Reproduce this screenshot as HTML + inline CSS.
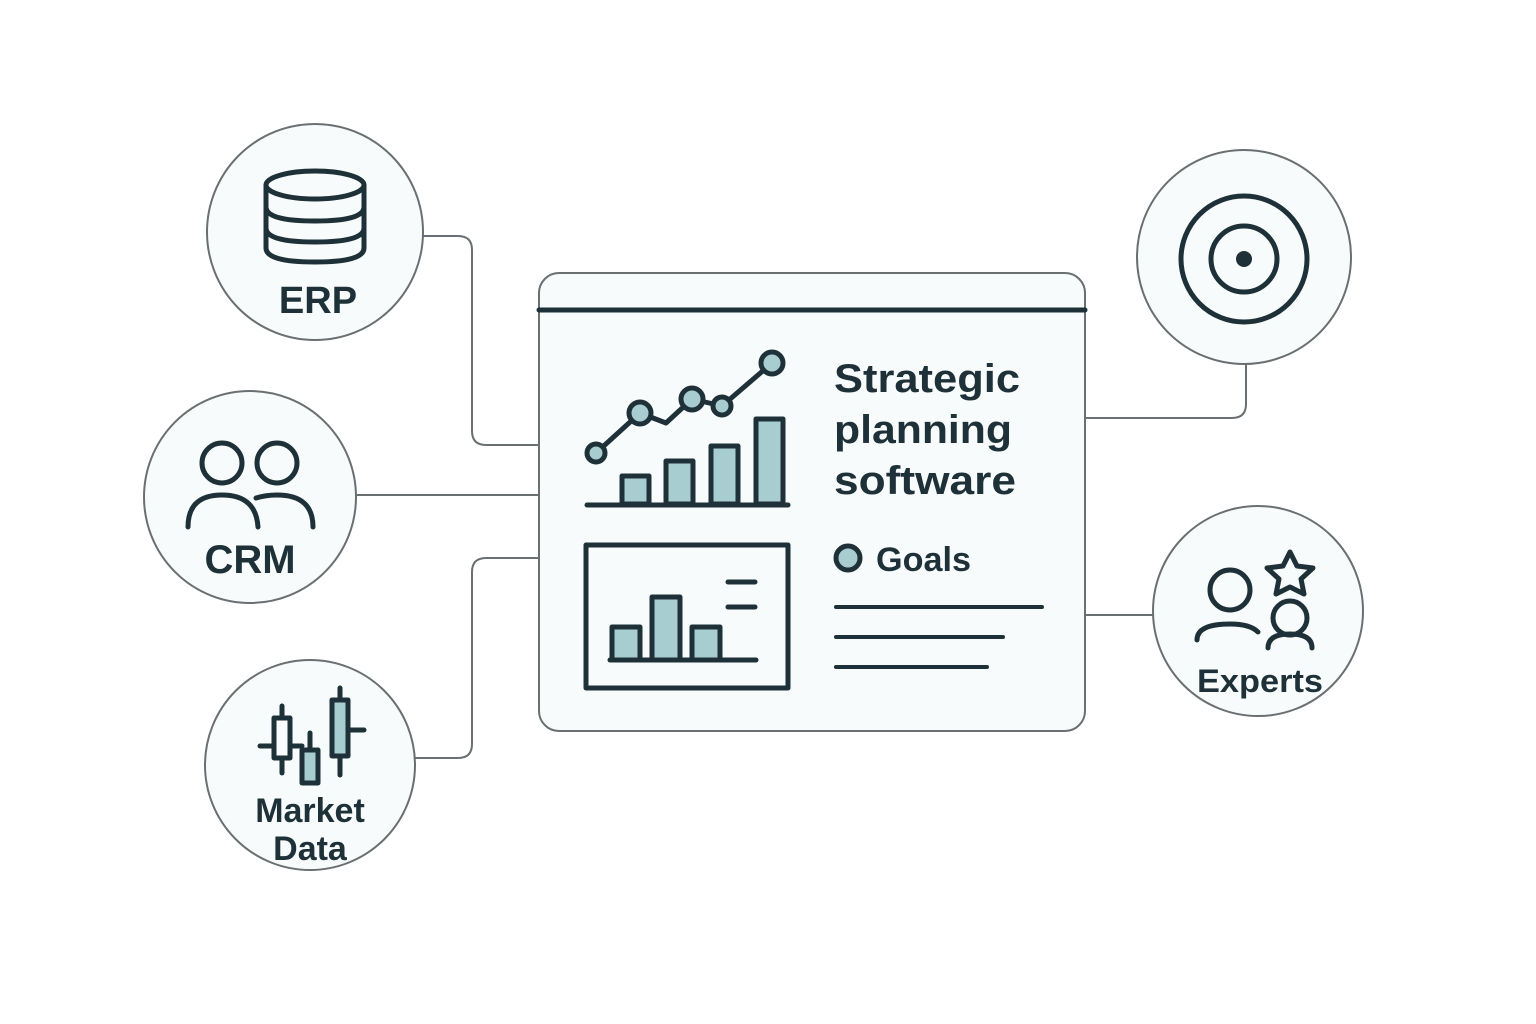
<!DOCTYPE html>
<html><head><meta charset="utf-8"><style>html,body{margin:0;padding:0;background:#fff}svg{display:block}</style></head>
<body>
<svg width="1536" height="1024" viewBox="0 0 1536 1024" xmlns="http://www.w3.org/2000/svg">
<g fill="none" stroke="#6a6f72" stroke-width="2">
<path d="M423 236 H458 Q472 236 472 250 V431 Q472 445 486 445 H539"/>
<path d="M356 495 H539"/>
<path d="M415 758 H458 Q472 758 472 744 V572 Q472 558 486 558 H539"/>
<path d="M1085 418 H1232 Q1246 418 1246 404 V364"/>
<path d="M1085 615 H1155"/>
</g>
<g fill="#f7fbfb" stroke="#6a6f72" stroke-width="2">
<circle cx="315" cy="232" r="108"/>
<circle cx="250" cy="497" r="106"/>
<circle cx="310" cy="765" r="105"/>
<circle cx="1244" cy="257" r="107"/>
<circle cx="1258" cy="611" r="105"/>
<rect x="539" y="273" width="546" height="458" rx="20"/>
</g>
<g stroke="#1f3138" stroke-width="5" fill="none" stroke-linecap="round" stroke-linejoin="round">
<line x1="539" y1="310" x2="1085" y2="310"/>
<ellipse cx="315" cy="185" rx="49" ry="14"/>
<path d="M266 185 V248 Q266 262 315 262 Q364 262 364 248 V185"/>
<path d="M266 207 Q266 221 315 221 Q364 221 364 207"/>
<path d="M266 228 Q266 242 315 242 Q364 242 364 228"/>
<circle cx="222" cy="463" r="20"/><circle cx="277" cy="463" r="20"/>
<path d="M188 527 Q188 495 222 495 Q256 495 258 527"/>
<path d="M256 498 Q266 495 277 495 Q313 495 313 527"/>
<circle cx="1244" cy="259" r="63"/><circle cx="1244" cy="259" r="33"/>
<circle cx="1230" cy="590" r="20"/>
<path d="M1197 640 Q1197 624 1230 624 Q1250 624 1258 632"/>
<circle cx="1290" cy="618" r="17"/>
<path d="M1268 648 Q1268 634 1290 634 Q1312 634 1312 648"/>
<path d="M1290 552 L1297 566 L1313 568 L1301 579 L1304 594 L1290 587 L1276 594 L1279 579 L1267 568 L1283 566 Z"/>
<line x1="260" y1="746" x2="274" y2="746"/>
<rect x="274" y="718" width="16" height="40" fill="#f7fbfb"/>
<line x1="282" y1="706" x2="282" y2="718"/><line x1="282" y1="758" x2="282" y2="773"/>
<line x1="290" y1="746" x2="302" y2="746"/>
<rect x="302" y="750" width="16" height="33" fill="#a8cdd0"/>
<line x1="310" y1="733" x2="310" y2="750"/>
<rect x="332" y="700" width="16" height="56" fill="#a8cdd0"/>
<line x1="340" y1="688" x2="340" y2="700"/><line x1="340" y1="756" x2="340" y2="775"/>
<line x1="348" y1="730" x2="364" y2="730"/>
<polyline points="596,453 640,413 666,423 692,399 722,406 772,363"/>
<rect x="622" y="476" width="27" height="28" fill="#a8cdd0"/>
<rect x="666" y="461" width="27" height="43" fill="#a8cdd0"/>
<rect x="711" y="446" width="27" height="58" fill="#a8cdd0"/>
<rect x="756" y="419" width="27" height="85" fill="#a8cdd0"/>
<line x1="587" y1="505" x2="788" y2="505"/>
<circle cx="596" cy="453" r="9" fill="#a8cdd0"/><circle cx="640" cy="413" r="11" fill="#a8cdd0"/>
<circle cx="692" cy="399" r="11" fill="#a8cdd0"/><circle cx="722" cy="406" r="9" fill="#a8cdd0"/>
<circle cx="772" cy="363" r="11" fill="#a8cdd0"/>
<rect x="586" y="545" width="202" height="143"/>
<rect x="612" y="627" width="28" height="33" fill="#a8cdd0"/>
<rect x="652" y="597" width="28" height="63" fill="#a8cdd0"/>
<rect x="692" y="627" width="28" height="33" fill="#a8cdd0"/>
<line x1="610" y1="660" x2="756" y2="660"/>
<line x1="728" y1="582" x2="755" y2="582"/><line x1="728" y1="607" x2="755" y2="607"/>
<circle cx="848" cy="558" r="12" fill="#a8cdd0"/>
<line x1="836" y1="607" x2="1042" y2="607" stroke-width="4"/>
<line x1="836" y1="637" x2="1003" y2="637" stroke-width="4"/>
<line x1="836" y1="667" x2="987" y2="667" stroke-width="4"/>
</g>
<circle cx="1244" cy="259" r="8" fill="#1f3138"/>
<g fill="#1f3138" font-family="Liberation Sans, sans-serif" font-weight="bold">
<text x="318" y="313" font-size="38" text-anchor="middle">ERP</text>
<text x="250" y="573" font-size="40" text-anchor="middle">CRM</text>
<text x="310" y="822" font-size="34" text-anchor="middle">Market</text>
<text x="310" y="860" font-size="34" text-anchor="middle">Data</text>
<text x="1197" y="692" font-size="32" textLength="126" lengthAdjust="spacingAndGlyphs">Experts</text>
<text x="834" y="392" font-size="40" textLength="186" lengthAdjust="spacingAndGlyphs">Strategic</text>
<text x="834" y="443" font-size="40" textLength="178" lengthAdjust="spacingAndGlyphs">planning</text>
<text x="834" y="494" font-size="40" textLength="182" lengthAdjust="spacingAndGlyphs">software</text>
<text x="876" y="571" font-size="34" textLength="95" lengthAdjust="spacingAndGlyphs">Goals</text>
</g>
</svg>
</body></html>
